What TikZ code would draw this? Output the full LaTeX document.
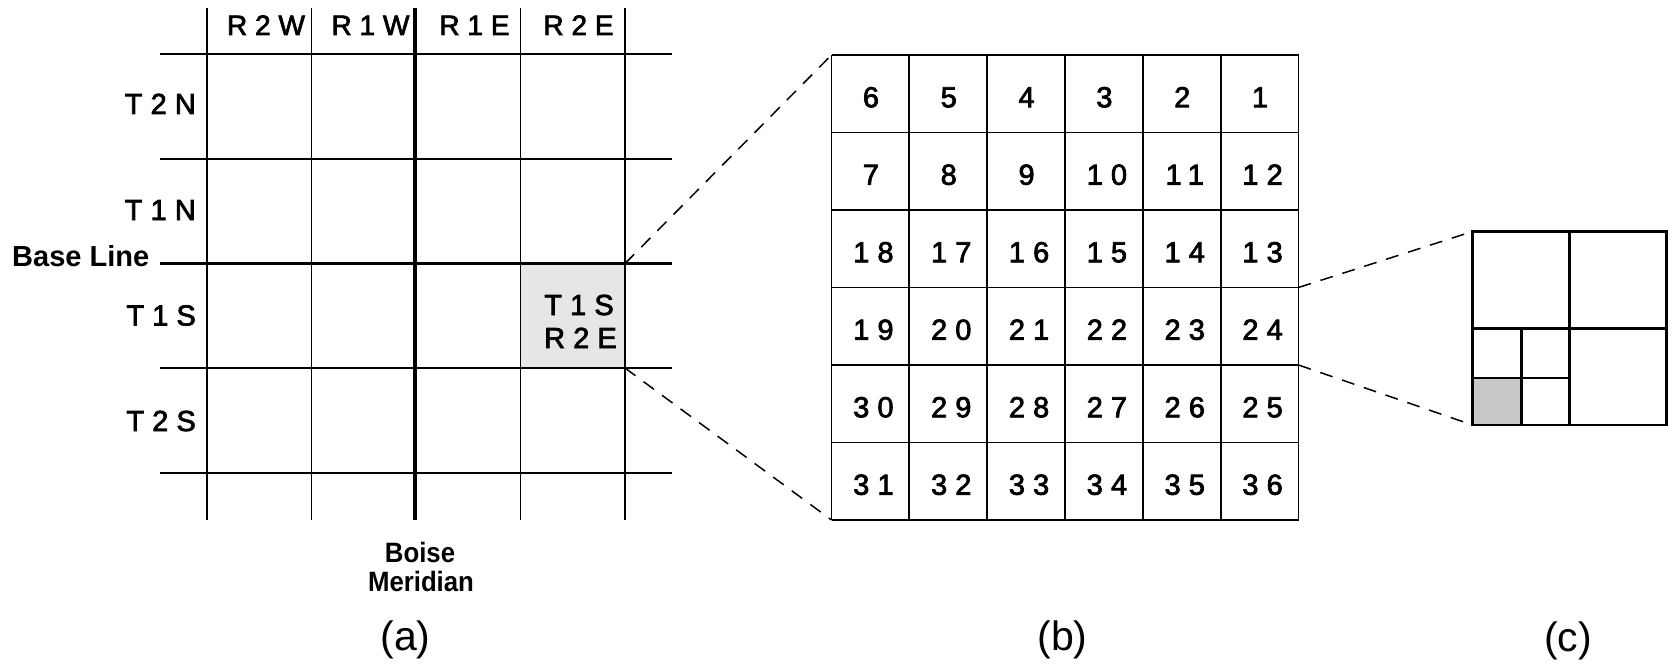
\documentclass[tikz,border=0pt]{standalone}
\usepackage{fontspec}
\setmainfont{Liberation Sans}
\newfontfamily\spc[LetterSpace=28,FakeBold=2.5]{Liberation Sans}
\definecolor{cellA}{HTML}{E6E6E6}
\definecolor{cellC}{HTML}{C8C8C8}
\begin{document}
\begin{tikzpicture}[x=1pt,y=-1pt,
  thinln/.style={line width=1.9pt},
  thickln/.style={line width=3.4pt},
  cln/.style={line width=2.3pt},
  dashln/.style={line width=1.5pt, dash pattern=on 13pt off 10pt},
  sp/.style={inner sep=0pt, anchor=base, font=\spc\fontsize{29}{31}\selectfont},
  hd/.style={inner sep=0pt, anchor=base, font=\spc\fontsize{28}{30}\selectfont},
  rl/.style={inner sep=0pt, anchor=base east, font=\spc\fontsize{29}{31}\selectfont},
  bl/.style={inner sep=0pt, anchor=base, font=\bfseries\fontsize{28}{30}\selectfont},
  sublbl/.style={inner sep=0pt, anchor=base, font=\fontsize{41}{43}\selectfont}]
\useasboundingbox (0,0) rectangle (1673,666);
% ---------- (a) ----------
\fill[cellA] (520.5,263.5) rectangle (625,368);
\foreach \x in {207,311.5,520.5,625} \draw[thinln] (\x,8) -- (\x,519.6);
\foreach \y in {54.2,158.8,368,472.6} \draw[thinln] (160,\y) -- (672,\y);
\draw[thickln] (415,8) -- (415,519.6);
\draw[thickln] (160,263.5) -- (672,263.5);
\coordinate (aTR) at (625,263.5);
\coordinate (aBR) at (625,368);
\node[hd] (h1) at (266,35) {R2W};
\node[hd] (h2) at (370.5,35) {R1W};
\node[hd] (h3) at (474.5,35) {R1E};
\node[hd] (h4) at (578.5,35) {R2E};
\node[rl] (t2n) at (196,114) {T2N};
\node[rl] (t1n) at (196,220) {T1N};
\node[rl] (t1s) at (196,325.5) {T1S};
\node[rl] (t2s) at (196,431) {T2S};
\node[sp] (c1) at (579,315) {T1S};
\node[sp] (c2) at (580.5,348) {R2E};
\node[bl, anchor=base west, font=\bfseries\fontsize{29}{31}\selectfont] (base) at (12,266.7) {Base Line};
\node[bl] (boise) at (420,562.5) {\scalebox{0.92}[1]{Boise}};
\node[bl] (merid) at (421,591.5) {\scalebox{0.92}[1]{Meridian}};
\node[sublbl] (la) at (405.5,650) {(a)};
% ---------- (b) ----------
\foreach \i in {0,...,6} {
  \draw[thinln] ({831.5+\i*77.83},55) -- ({831.5+\i*77.83},520);
  \draw[thinln] (831.5,{55+\i*77.5}) -- (1298.5,{55+\i*77.5});
}
\foreach \r in {0,...,5} {
  \foreach \c in {0,...,5} {
    \pgfmathtruncatemacro{\n}{mod(\r,2)==0 ? 6*\r+6-\c : 6*\r+1+\c}
    \pgfmathsetmacro{\dx}{\n>9 ? 3 : 0.5}
    \node[sp] (n\n) at ({831.5+(\c+0.5)*77.83+\dx},{55+(\r+0.5)*77.5+13.5}) {\n};
  }
}
\coordinate (bTL) at (831.5,55);
\coordinate (bBL) at (831.5,520);
\coordinate (bR3) at (1298.5,287.5);
\coordinate (bR4) at (1298.5,365);
\node[sublbl] (lb) at (1062.5,650) {(b)};
% ---------- (c) ----------
\fill[cellC] (1472.5,378) rectangle (1521.5,425);
\draw[cln] (1472.5,231.5) rectangle (1666.5,425);
\draw[cln] (1569.5,231.5) -- (1569.5,425);
\draw[cln] (1472.5,328.5) -- (1666.5,328.5);
\draw[cln] (1521.5,328.5) -- (1521.5,425);
\draw[cln] (1472.5,378) -- (1569.5,378);
\coordinate (cTL) at (1472.5,231.5);
\coordinate (cBL) at (1472.5,425);
\node[sublbl] (lc) at (1568,651) {(c)};
% ---------- dashed connectors ----------
\draw[dashln] (aTR) -- (bTL);
\draw[dashln] (aBR) -- (bBL);
\draw[dashln] (bR3) -- (cTL);
\draw[dashln] (bR4) -- (cBL);
\end{tikzpicture}
\end{document}
